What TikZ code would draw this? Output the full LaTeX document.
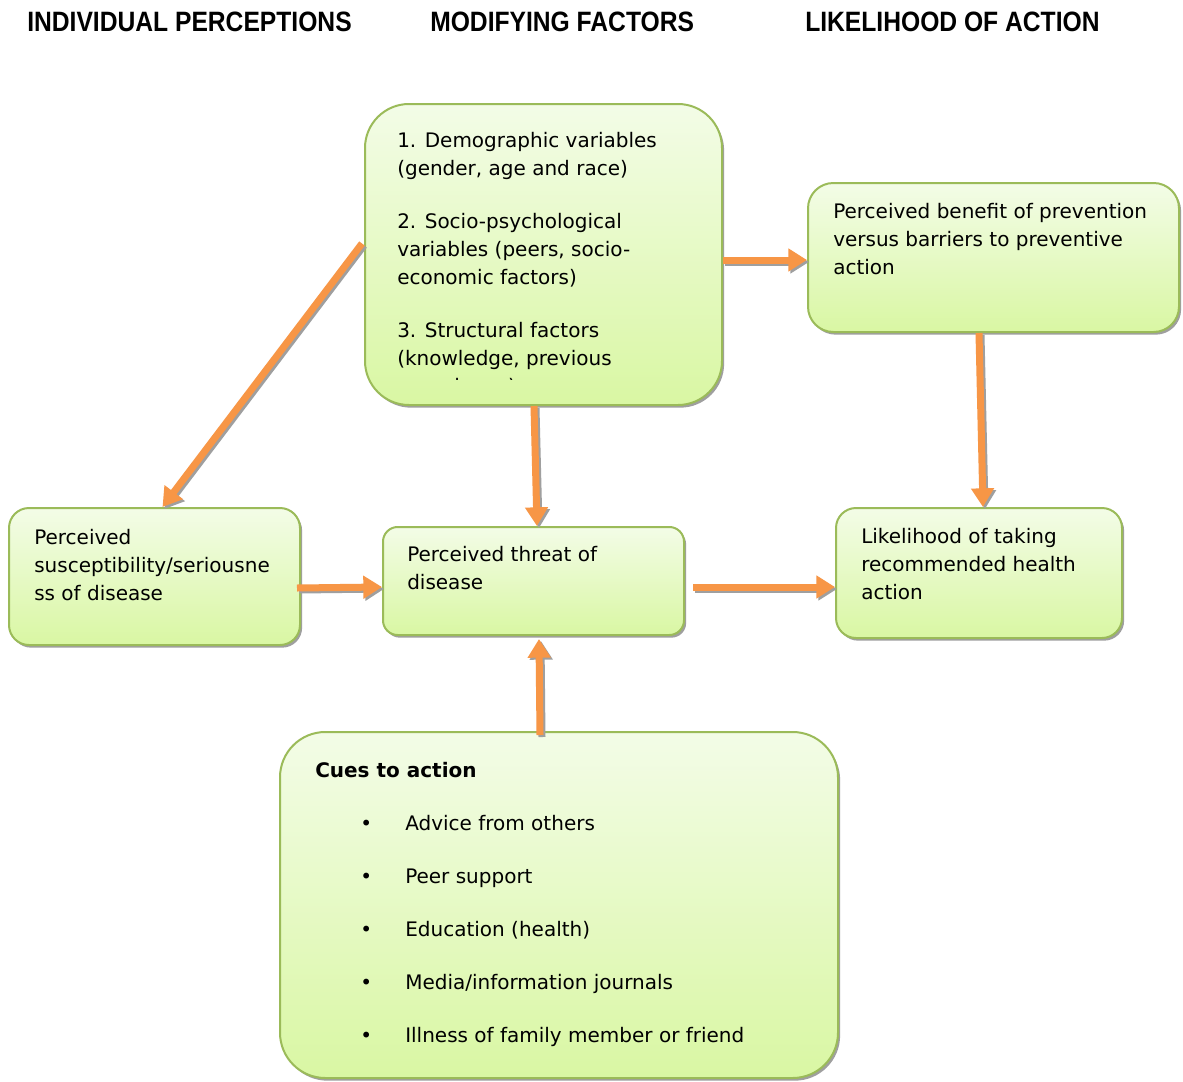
\documentclass[tikz,border=0pt]{standalone}
\usepackage{fontspec}
\setmainfont{DejaVu Sans}
\newfontfamily\headfont[FakeStretch=0.88]{Liberation Sans}
\usetikzlibrary{arrows.meta,calc,fit,shadows}
\definecolor{boxtop}{HTML}{F3FCE7}
\definecolor{boxbot}{HTML}{D9F7A3}
\definecolor{boxline}{HTML}{9BBB59}
\definecolor{arrorange}{HTML}{F79646}
\tikzset{
  box/.style={draw=boxline, line width=1.5pt, top color=boxtop, bottom color=boxbot,
    inner sep=0pt, drop shadow={shadow xshift=1.6pt, shadow yshift=-2pt, fill=gray!75, opacity=1}},
  txt/.style={anchor=north west, inner sep=0pt, align=left, font=\fontsize{15}{21}\selectfont, text=black},
  head/.style={anchor=west, inner sep=0pt, font=\headfont\bfseries\fontsize{21}{25}\selectfont},
  arr/.style={draw=arrorange, line width=5.25pt, -{Triangle[width=16.5pt,length=14pt]}},
  arrsh/.style={draw=gray!75, line width=5.25pt, -{Triangle[width=16.5pt,length=14pt]},
    transform canvas={xshift=1.5pt,yshift=-1.5pt}}
}
\begin{document}
\begin{tikzpicture}[x=0.75pt,y=-0.75pt]
\useasboundingbox[fill=white] (0,0) rectangle (1183,1082);

% headers
\node[head] (h1) at (27,22) {INDIVIDUAL PERCEPTIONS};
\node[head] (h2) at (430,22) {MODIFYING FACTORS};
\node[head] (h3) at (805,22) {LIKELIHOOD OF ACTION};

% boxes
\node[box, rounded corners=33pt, fit={(365,104) (722,405)}] (top) {};
\node[box, rounded corners=19pt, fit={(808,183) (1179,332)}] (ben) {};
\node[box, rounded corners=15pt, fit={(9,508) (300,645)}] (sus) {};
\node[box, rounded corners=11pt, fit={(383,527) (684,635)}] (thr) {};
\node[box, rounded corners=15pt, fit={(836,508) (1122,638)}] (lik) {};
\node[box, rounded corners=34pt, fit={(280,732) (838,1078)}] (cue) {};

% texts
\begin{scope}
\clip (365,104) rectangle (722,379);
\node[txt] (ttop) at (397,132) {1. Demographic variables\\(gender, age and race)\\[18.75pt]
2. Socio-psychological\\variables (peers, socio-\\economic factors)\\[18.75pt]
3. Structural factors\\(knowledge, previous\\experience)};
\end{scope}
\node[txt] (tben) at (833,203) {Perceived benefit of prevention\\versus barriers to preventive\\action};
\node[txt] (tsus) at (34,529) {Perceived\\susceptibility/seriousne\\ss of disease};
\node[txt] (tthr) at (407,546) {Perceived threat of\\disease};
\node[txt] (tlik) at (861,528) {Likelihood of taking\\recommended health\\action};
\node[txt] (tcue) at (315,762) {\textbf{Cues to action}\\[18.75pt]
\hspace*{33.75pt}\makebox[33.75pt][l]{\textbullet}Advice from others\\[18.75pt]
\hspace*{33.75pt}\makebox[33.75pt][l]{\textbullet}Peer support\\[18.75pt]
\hspace*{33.75pt}\makebox[33.75pt][l]{\textbullet}Education (health)\\[18.75pt]
\hspace*{33.75pt}\makebox[33.75pt][l]{\textbullet}Media/information journals\\[18.75pt]
\hspace*{33.75pt}\makebox[33.75pt][l]{\textbullet}Illness of family member or friend};

% arrows (shadow then orange)
\foreach \s in {arrsh,arr}{
  \draw[\s] ($(top.west)+(-2,-11)$) -- ($(sus.north)+(8,0)$);
  \draw[\s] ($(top.east)+(0,5.5)$) -- ($(ben.west)+(0,2.5)$);
  \draw[\s] ($(ben.south)+(-14.5,0)$) -- ($(lik.north)+(4,0)$);
  \draw[\s] ($(sus.east)+(-4,11.5)$) -- ($(thr.west)+(0,6)$);
  \draw[\s] ($(top.south)+(-9.5,0)$) -- ($(thr.north)+(3.5,0)$);
  \draw[\s] ($(thr.east)+(8,6)$) -- ($(lik.west)+(0,14)$);
  \draw[\s] ($(cue.north)+(-19,4)$) -- ($(thr.south)+(5.5,3)$);
}
\end{tikzpicture}
\end{document}
